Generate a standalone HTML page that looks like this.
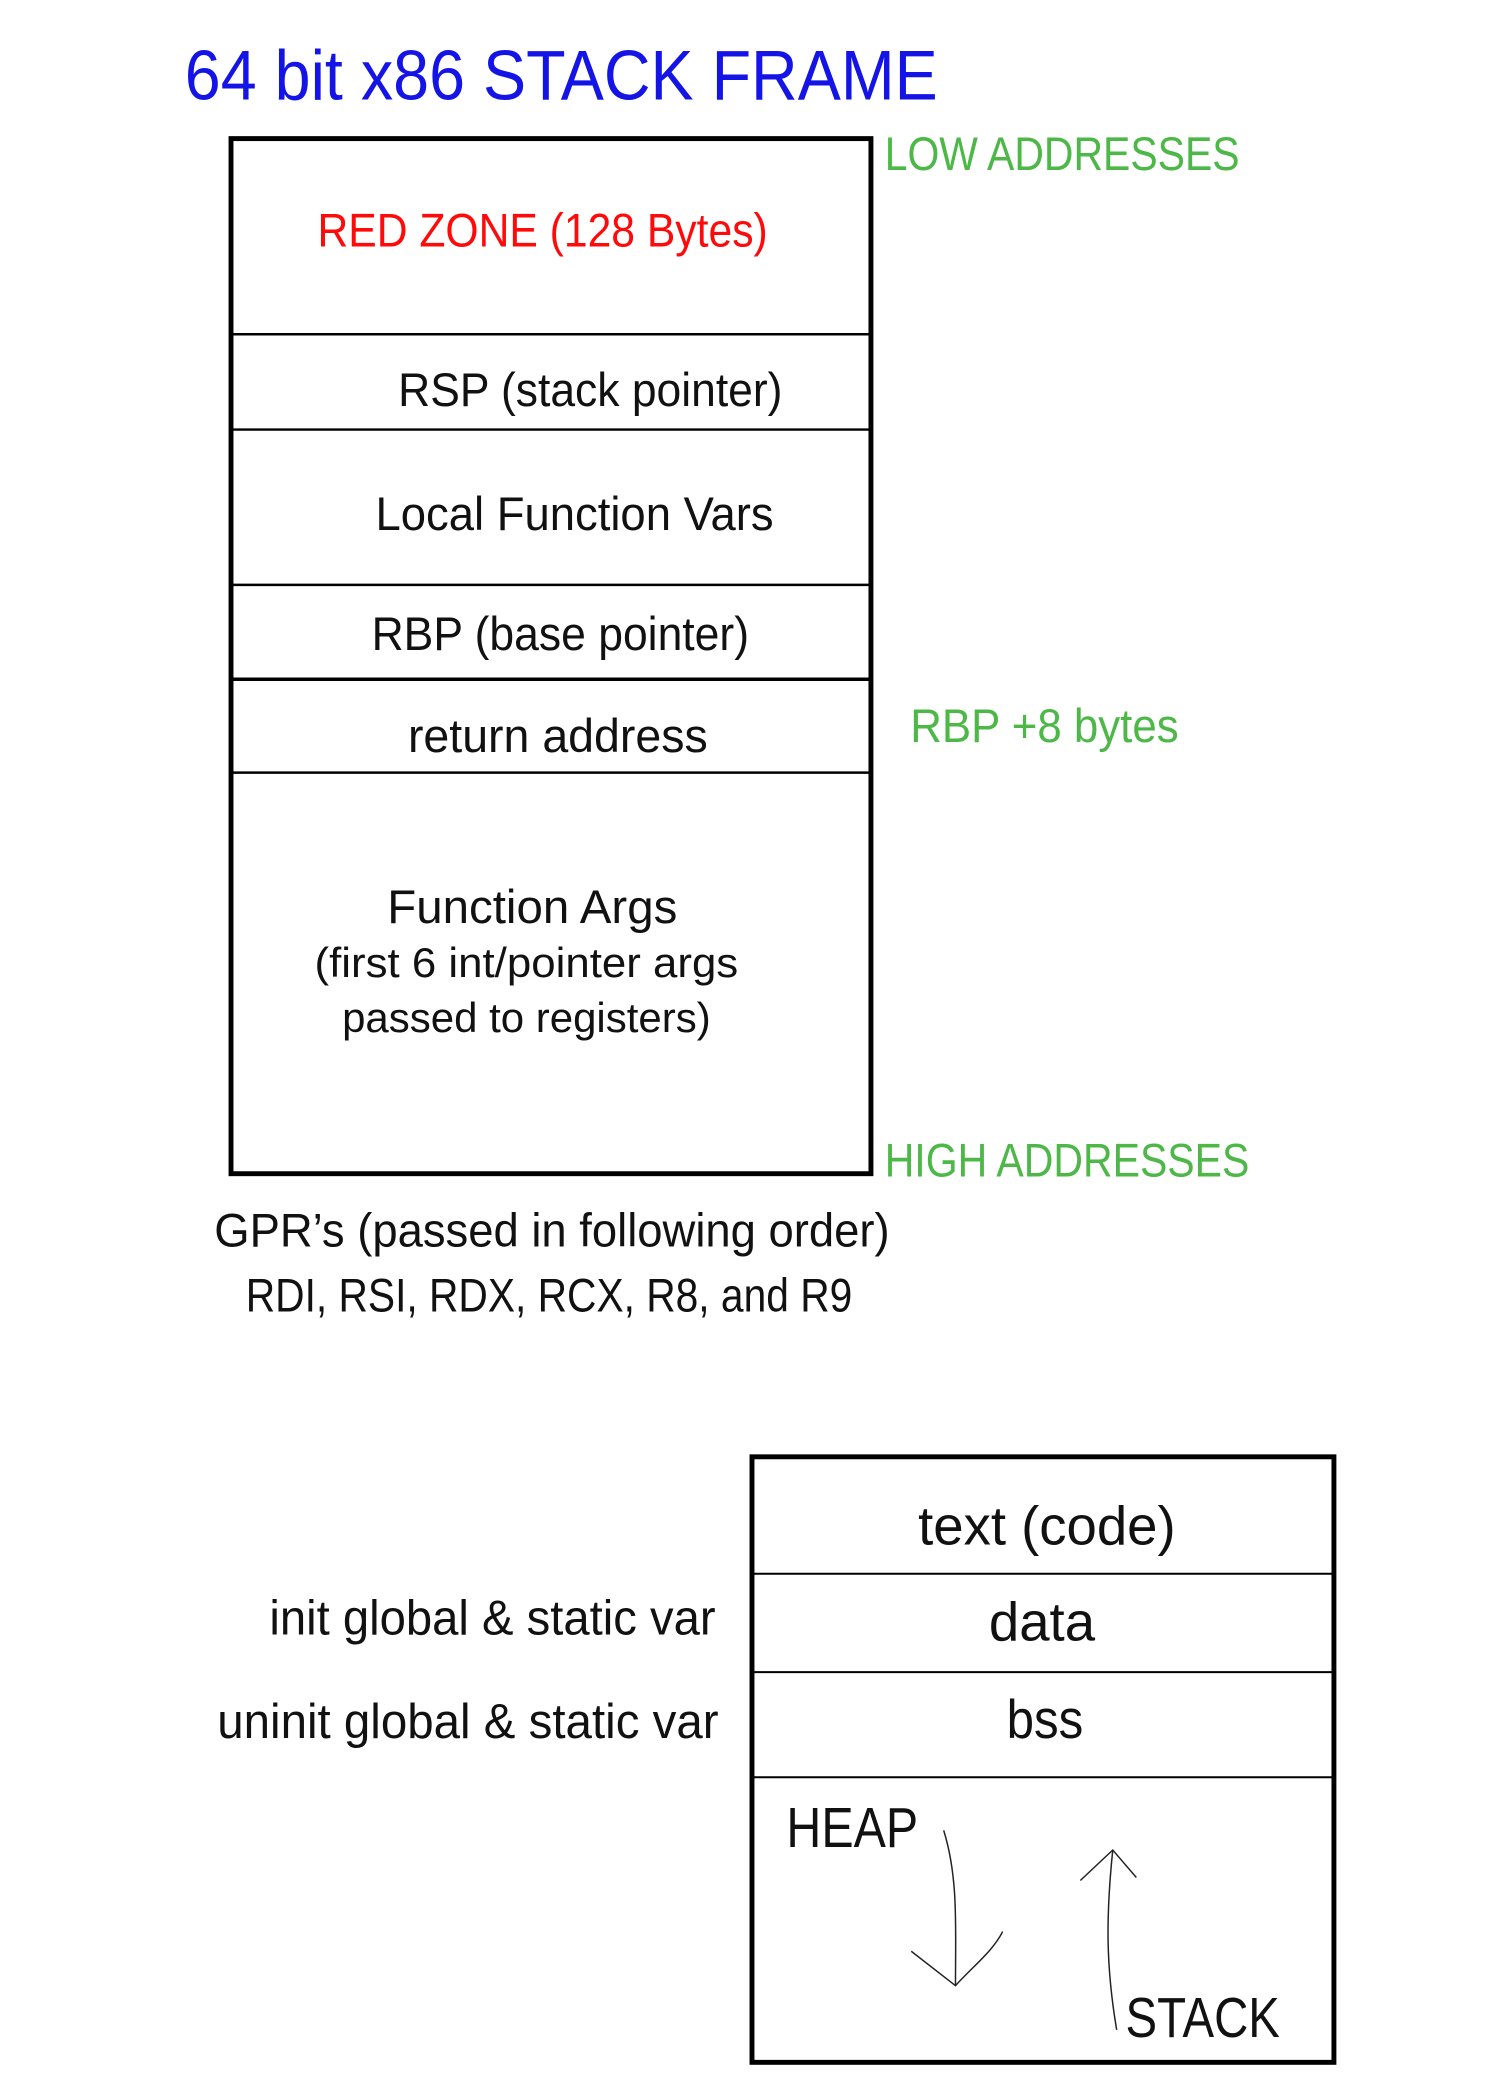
<!DOCTYPE html>
<html><head><meta charset="utf-8"><style>
html,body{margin:0;padding:0;background:#fff;}
svg{display:block;}
text{font-family:"Liberation Sans",sans-serif;}
</style></head><body>
<svg width="1500" height="2100" viewBox="0 0 1500 2100" xmlns="http://www.w3.org/2000/svg">
<g transform="scale(0.983)">
<text x="188" y="101" font-size="72" fill="#1414e6" textLength="766" lengthAdjust="spacingAndGlyphs">64 bit x86 STACK FRAME</text>
<rect x="235" y="141" width="651" height="1053" fill="none" stroke="#000" stroke-width="5"/>
<g stroke="#000" stroke-width="2.5">
<line x1="235" y1="340" x2="886" y2="340"/>
<line x1="235" y1="437" x2="886" y2="437"/>
<line x1="235" y1="595" x2="886" y2="595"/>
<line x1="235" y1="691" x2="886" y2="691" stroke-width="3.5"/>
<line x1="235" y1="786" x2="886" y2="786"/>
</g>
<g font-size="48" fill="#111">
<text x="323" y="251" fill="#ff0a0a" textLength="458" lengthAdjust="spacingAndGlyphs">RED ZONE (128 Bytes)</text>
<text x="405" y="413" textLength="391" lengthAdjust="spacingAndGlyphs">RSP (stack pointer)</text>
<text x="382" y="539" textLength="405" lengthAdjust="spacingAndGlyphs">Local Function Vars</text>
<text x="378" y="661" textLength="384" lengthAdjust="spacingAndGlyphs">RBP (base pointer)</text>
<text x="415" y="765" textLength="305" lengthAdjust="spacingAndGlyphs">return address</text>
<text x="394" y="939" textLength="295" lengthAdjust="spacingAndGlyphs">Function Args</text>
<text x="320" y="994" font-size="42" textLength="431" lengthAdjust="spacingAndGlyphs">(first 6 int/pointer args</text>
<text x="348" y="1050" font-size="42" textLength="375" lengthAdjust="spacingAndGlyphs">passed to registers)</text>
<text x="218" y="1268" textLength="687" lengthAdjust="spacingAndGlyphs">GPR’s (passed in following order)</text>
<text x="250" y="1334" textLength="617" lengthAdjust="spacingAndGlyphs">RDI, RSI, RDX, RCX, R8, and R9</text>
</g>
<g font-size="48" fill="#4db848">
<text x="900" y="173" textLength="361" lengthAdjust="spacingAndGlyphs">LOW ADDRESSES</text>
<text x="926" y="755" textLength="273" lengthAdjust="spacingAndGlyphs">RBP +8 bytes</text>
<text x="900" y="1197" textLength="371" lengthAdjust="spacingAndGlyphs">HIGH ADDRESSES</text>
</g>
<rect x="765" y="1482" width="592" height="616" fill="none" stroke="#000" stroke-width="5"/>
<g stroke="#000" stroke-width="2">
<line x1="765" y1="1601" x2="1357" y2="1601"/>
<line x1="765" y1="1701" x2="1357" y2="1701"/>
<line x1="765" y1="1808" x2="1357" y2="1808"/>
</g>
<g fill="#111">
<text x="934" y="1571" font-size="56" textLength="262" lengthAdjust="spacingAndGlyphs">text (code)</text>
<text x="1006" y="1669" font-size="56" textLength="108" lengthAdjust="spacingAndGlyphs">data</text>
<text x="1024" y="1768" font-size="56" textLength="78" lengthAdjust="spacingAndGlyphs">bss</text>
<text x="800" y="1879" font-size="58" textLength="134" lengthAdjust="spacingAndGlyphs">HEAP</text>
<text x="1145" y="2072" font-size="58" textLength="157" lengthAdjust="spacingAndGlyphs">STACK</text>
<text x="274" y="1663" font-size="50" textLength="454" lengthAdjust="spacingAndGlyphs">init global &amp; static var</text>
<text x="221" y="1768" font-size="50" textLength="510" lengthAdjust="spacingAndGlyphs">uninit global &amp; static var</text>
</g>
<g fill="none" stroke="#222" stroke-width="1.5">
<path d="M960,1862 C975,1910 972,1960 972,2020"/>
<path d="M927,1985 L972,2020 C990,2000 1010,1985 1020,1965"/>
<path d="M1136,2065 C1125,2000 1125,1950 1132,1882"/>
<path d="M1099,1913 L1132,1882 L1156,1910"/>
</g>
</g>
</svg>
</body></html>
